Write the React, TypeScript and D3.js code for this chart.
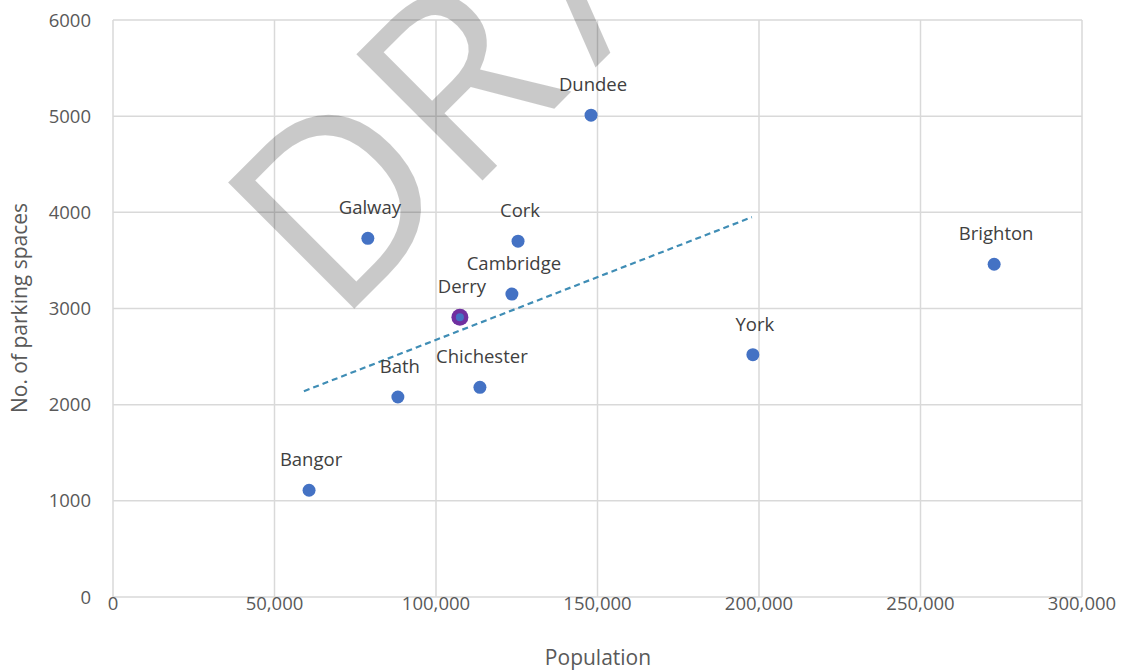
import React from "react";
import * as d3 from "d3";

const cities = ["Bangor", "Bath", "Galway", "Derry", "Chichester", "Cambridge", "Cork", "Dundee", "York", "Brighton"];
const population = [60700, 88200, 78900, 107400, 113600, 123500, 125400, 148000, 198100, 272800];
const parking = [1110, 2080, 3730, 2910, 2180, 3150, 3700, 5010, 2520, 3460];
const highlighted = ["Derry"];
const trendX = [59100, 197800];
const trendY = [2140, 3950];
const xTicks = [0, 50000, 100000, 150000, 200000, 250000, 300000];
const yTicks = [0, 1000, 2000, 3000, 4000, 5000, 6000];
const xTitle = "Population";
const yTitle = "No. of parking spaces";
const watermarkA = "DR";
const watermarkB = "AFT";

const W = 1128;
const H = 670;
const FONT = "'Open Sans', sans-serif";

export default function App() {
  const x = d3.scaleLinear().domain([0, 300000]).range([113, 1082]);
  const y = d3.scaleLinear().domain([0, 6000]).range([597, 20]);
  const fmtX = d3.format(",");
  const line = d3
    .line<number>()
    .x((_, i) => x(trendX[i]))
    .y((d) => y(d));

  return (
    <div style={{ position: "absolute", left: 0, top: 0 }}>
      <svg width={W} height={H} style={{ display: "block", background: "#fff" }}>
        {/* grid */}
        {xTicks.map((t) => (
          <line key={"gx" + t} x1={x(t)} x2={x(t)} y1={y(0)} y2={y(6000)} stroke="#d9d9d9" strokeWidth={1.5} />
        ))}
        {yTicks.map((t) => (
          <line key={"gy" + t} x1={x(0)} x2={x(300000)} y1={y(t)} y2={y(t)} stroke="#d9d9d9" strokeWidth={1.5} />
        ))}
        {/* tick labels */}
        {xTicks.map((t) => (
          <text key={"tx" + t} x={x(t)} y={610} textAnchor="middle" fontFamily={FONT} fontSize={18.5} fill="#595959">
            {fmtX(t)}
          </text>
        ))}
        {yTicks.map((t) => (
          <text key={"ty" + t} x={91} y={y(t) + 6.5} textAnchor="end" fontFamily={FONT} fontSize={18.5} fill="#595959">
            {t}
          </text>
        ))}
        {/* axis titles */}
        <text x={598} y={665} textAnchor="middle" fontFamily={FONT} fontSize={21} fill="#595959">
          {xTitle}
        </text>
        <text
          transform={`translate(27, ${308}) rotate(-90)`}
          textAnchor="middle"
          fontFamily={FONT}
          fontSize={21}
          fill="#595959"
        >
          {yTitle}
        </text>
        {/* trendline */}
        <path d={line(trendY) || ""} fill="none" stroke="#3f8db5" strokeWidth={2.2} strokeDasharray="6 4" />
        {/* points */}
        {cities.map((c, i) =>
          highlighted.includes(c) ? (
            <g key={c}>
              <circle cx={x(population[i])} cy={y(parking[i])} r={8.5} fill="#7030a0" />
              <circle cx={x(population[i])} cy={y(parking[i])} r={4} fill="#4472c4" />
            </g>
          ) : (
            <circle key={c} cx={x(population[i])} cy={y(parking[i])} r={6.5} fill="#4472c4" />
          )
        )}
        {/* labels */}
        {cities.map((c, i) => (
          <text
            key={"l" + c}
            x={x(population[i]) + 2}
            y={y(parking[i]) - 24}
            textAnchor="middle"
            fontFamily={FONT}
            fontSize={18.5}
            fill="#404040"
          >
            {c}
          </text>
        ))}
        {/* watermark */}
        <text
          transform="translate(337, 326) rotate(-45)"
          fontFamily={FONT}
          fontSize={250}
          fill="#000"
          fillOpacity={0.21}
        >
          <tspan>{watermarkA}</tspan>
          <tspan dx={30}>{watermarkB}</tspan>
        </text>
      </svg>
    </div>
  );
}
